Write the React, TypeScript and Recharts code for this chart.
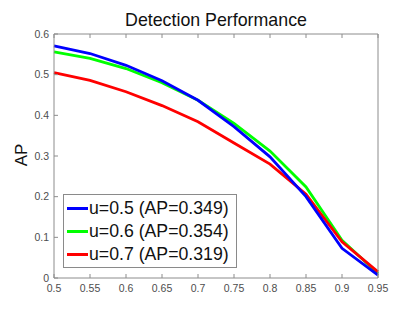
import React from "react";
import { LineChart, Line, XAxis, YAxis } from "recharts";

const iouThresholds = [0.5, 0.55, 0.6, 0.65, 0.7, 0.75, 0.8, 0.85, 0.9, 0.95];
const apU05 = [0.571, 0.552, 0.523, 0.485, 0.437, 0.372, 0.298, 0.2, 0.073, 0.007];
const apU06 = [0.556, 0.54, 0.515, 0.48, 0.437, 0.38, 0.312, 0.224, 0.093, 0.011];
const apU07 = [0.505, 0.486, 0.458, 0.424, 0.384, 0.332, 0.28, 0.206, 0.089, 0.015];
const xTicks = [0.5, 0.55, 0.6, 0.65, 0.7, 0.75, 0.8, 0.85, 0.9, 0.95];
const yTicks = [0, 0.1, 0.2, 0.3, 0.4, 0.5, 0.6];
const seriesNames = ["u=0.5 (AP=0.349)", "u=0.6 (AP=0.354)", "u=0.7 (AP=0.319)"];
const seriesColors = ["#0000ff", "#00ff00", "#ff0000"];

const data = iouThresholds.map((t, i) => ({
  t,
  a: apU05[i],
  b: apU06[i],
  c: apU07[i],
}));

const FONT = "'Liberation Sans', Arial, Helvetica, sans-serif";
const AXIS = "#8c8c8c";
const LABEL = "#4d4d4d";

const fmt = (v: number) => (v === 0 ? "0" : String(v));

const BottomTick = (p: any) => (
  <g>
    <line x1={p.x} x2={p.x} y1={p.y} y2={p.y - 4} stroke={AXIS} strokeWidth={1} />
    <text x={p.x} y={p.y + 14} textAnchor="middle" fontSize={10.5} fill={LABEL} fontFamily={FONT}>
      {fmt(p.payload.value)}
    </text>
  </g>
);
const LeftTick = (p: any) => (
  <g>
    <line x1={p.x} x2={p.x + 4} y1={p.y} y2={p.y} stroke={AXIS} strokeWidth={1} />
    <text x={p.x - 5} y={p.y + 3.5} textAnchor="end" fontSize={10.5} fill={LABEL} fontFamily={FONT}>
      {fmt(p.payload.value)}
    </text>
  </g>
);
const TopTick = (p: any) => (
  <line x1={p.x} x2={p.x} y1={p.y} y2={p.y + 4} stroke={AXIS} strokeWidth={1} />
);
const RightTick = (p: any) => (
  <line x1={p.x} x2={p.x - 4} y1={p.y} y2={p.y} stroke={AXIS} strokeWidth={1} />
);

export default function App() {
  return (
    <div style={{ position: "absolute", left: 0, top: 0, width: 404, height: 328, background: "#fff", fontFamily: FONT }}>
      <div
        style={{
          position: "absolute",
          left: 0,
          width: 432,
          top: 10,
          textAlign: "center",
          fontSize: 17.8,
          color: "#111",
          lineHeight: "20px",
        }}
      >
        Detection Performance
      </div>
      <div
        style={{
          position: "absolute",
          left: 22,
          top: 155,
          transform: "translate(-50%, -50%) rotate(-90deg)",
          fontSize: 17,
          color: "#111",
          whiteSpace: "nowrap",
        }}
      >
        AP
      </div>
      <LineChart width={404} height={328} data={data} margin={{ top: 0, right: 0, bottom: 0, left: 0 }}>
        <XAxis
          dataKey="t"
          type="number"
          domain={[0.5, 0.95]}
          ticks={xTicks}
          height={50}
          tickSize={0}
          tickMargin={0}
          tickLine={false}
          tick={<BottomTick />}
          stroke={AXIS}
          interval={0}
        />
        <XAxis
          xAxisId="top"
          orientation="top"
          dataKey="t"
          type="number"
          domain={[0.5, 0.95]}
          ticks={xTicks}
          height={34}
          tickSize={0}
          tickMargin={0}
          tickLine={false}
          tick={<TopTick />}
          stroke={AXIS}
          interval={0}
        />
        <YAxis
          type="number"
          domain={[0, 0.6]}
          ticks={yTicks}
          width={54}
          tickSize={0}
          tickMargin={0}
          tickLine={false}
          tick={<LeftTick />}
          stroke={AXIS}
          interval={0}
        />
        <YAxis
          yAxisId="right"
          orientation="right"
          type="number"
          domain={[0, 0.6]}
          ticks={yTicks}
          width={26}
          tickSize={0}
          tickMargin={0}
          tickLine={false}
          tick={<RightTick />}
          stroke={AXIS}
          interval={0}
        />
        <Line dataKey="b" stroke={seriesColors[1]} strokeWidth={2.8} dot={false} isAnimationActive={false} />
        <Line dataKey="c" stroke={seriesColors[2]} strokeWidth={2.8} dot={false} isAnimationActive={false} />
        <Line dataKey="a" stroke={seriesColors[0]} strokeWidth={2.8} dot={false} isAnimationActive={false} />
      </LineChart>
      <div
        style={{
          position: "absolute",
          left: 63,
          top: 194,
          width: 174,
          height: 74,
          border: "1px solid #8a8a8a",
          background: "#fff",
          boxSizing: "border-box",
          paddingTop: 1.7,
        }}
      >
        {seriesNames.map((n, i) => (
          <div key={n} style={{ display: "flex", alignItems: "center", height: 23.3, fontSize: 17.7, color: "#111", whiteSpace: "nowrap" }}>
            <span style={{ display: "inline-block", width: 21, height: 3, background: seriesColors[i], marginLeft: 3, marginRight: 1 }} />
            <span>{n}</span>
          </div>
        ))}
      </div>
    </div>
  );
}
